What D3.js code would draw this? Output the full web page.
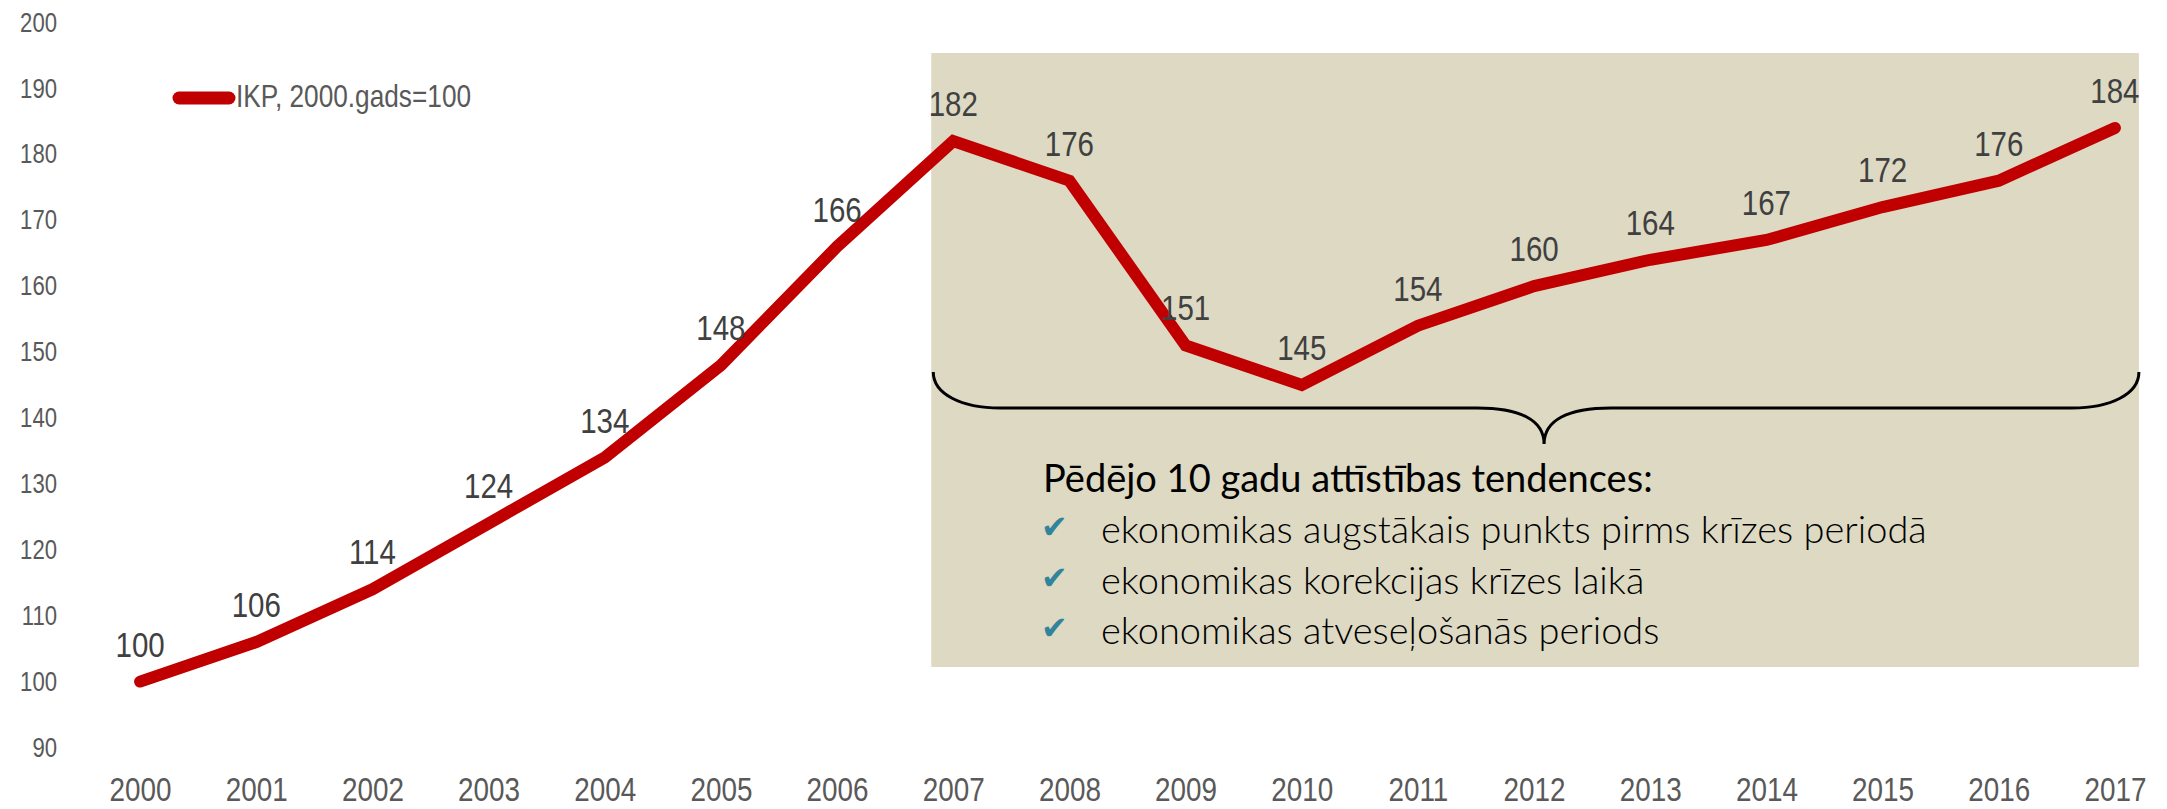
<!DOCTYPE html>
<html>
<head>
<meta charset="utf-8">
<script src="https://cdn.jsdelivr.net/npm/d3@7"></script>
<style>
  body { margin: 0; background: #fff; }
  svg { display: block; }
  .narrow { font-family: "Liberation Sans", Arial, sans-serif; }
  .box-text { font-family: Lato, "Open Sans", "Noto Sans", sans-serif; }
</style>
</head>
<body>
<svg id="chart"></svg>
<script>
// ---- data ----
const years = ["2000","2001","2002","2003","2004","2005","2006","2007","2008",
               "2009","2010","2011","2012","2013","2014","2015","2016","2017"];
const gdpIndex = [100, 106, 114, 124, 134, 148, 166, 182, 176,
                  151, 145, 154, 160, 164, 167, 172, 176, 184];
const yTicks = [90, 100, 110, 120, 130, 140, 150, 160, 170, 180, 190, 200];
const seriesName = "IKP, 2000.gads=100";
const noteTitle = "Pēdējo 10 gadu attīstības tendences:";
const noteItems = [
  "ekonomikas augstākais punkts pirms krīzes periodā",
  "ekonomikas korekcijas krīzes laikā",
  "ekonomikas atveseļošanās periods"
];

// ---- layout ----
const W = 2167, H = 809;
const red = "#C00000", axisGrey = "#595959", labelGrey = "#404040";
const narrow = "scale(0.82,1)";   // no Arial Narrow here, squeeze Liberation Sans instead

const svg = d3.select("#chart").attr("width", W).attr("height", H);

const x = d3.scalePoint(years, [82, 2173]).padding(0.5);
const y = d3.scaleLinear([90, 200], [747.5, 22.5]);

// shaded box covering 2007-2017
const boxL = x("2007") - 22, boxR = x("2017") + 24, boxT = 53, boxB = 667;
svg.append("rect")
  .attr("x", boxL).attr("y", boxT)
  .attr("width", boxR - boxL).attr("height", boxB - boxT)
  .attr("fill", "#DDD9C3");

// brace under the recovery period
const bL = boxL + 2, bR = boxR, bTop = 372, bMid = 408, bTip = 444;
const tipX = (bL + bR) / 2 + 8;
svg.append("path")
  .attr("d", `M${bL},${bTop} C${bL},${bMid - 14} ${bL + 28},${bMid} ${bL + 67},${bMid}
    L${tipX - 67},${bMid} C${tipX - 24},${bMid} ${tipX},${bMid + 12} ${tipX},${bTip}
    C${tipX},${bMid + 12} ${tipX + 24},${bMid} ${tipX + 67},${bMid}
    L${bR - 67},${bMid} C${bR - 28},${bMid} ${bR},${bMid - 14} ${bR},${bTop}`)
  .attr("fill", "none")
  .attr("stroke", "#000")
  .attr("stroke-width", 3);

// note text
const note = svg.append("g").attr("class", "box-text");
note.append("text")
  .attr("x", 1043).attr("y", 492)
  .attr("font-size", 38)
  .attr("fill", "#000")
  .text(noteTitle);

noteItems.forEach((t, i) => {
  const by = 543 + i * 50.5;
  note.append("text")
    .attr("x", 1041).attr("y", by - 5)
    .attr("font-family", "DejaVu Sans, sans-serif")
    .attr("font-size", 32)
    .attr("fill", "#31849B")
    .text("✔");
  note.append("text")
    .attr("x", 1101).attr("y", by)
    .attr("font-size", 38)
    .attr("font-weight", 300)
    .attr("fill", "#000")
    .text(t);
});

// ---- axes ----
const yAxis = svg.append("g")
  .attr("class", "narrow")
  .attr("transform", "translate(57,0)")
  .call(d3.axisLeft(y).tickValues(yTicks).tickSize(0).tickPadding(0));
yAxis.select(".domain").remove();
yAxis.selectAll("text")
  .attr("transform", narrow)
  .attr("font-size", 27)
  .attr("fill", axisGrey)
  .attr("font-family", null);

const xAxis = svg.append("g")
  .attr("class", "narrow")
  .attr("transform", "translate(0,801)")
  .call(d3.axisBottom(x).tickSize(0).tickPadding(0));
xAxis.select(".domain").remove();
xAxis.selectAll("text")
  .attr("y", 0).attr("dy", 0)
  .attr("transform", narrow)
  .attr("font-size", 34)
  .attr("fill", axisGrey)
  .attr("font-family", null);

// ---- line ----
const pts = years.map((yr, i) => ({ year: yr, v: gdpIndex[i] }));
svg.append("path")
  .datum(pts)
  .attr("d", d3.line().x(d => x(d.year)).y(d => y(d.v)))
  .attr("fill", "none")
  .attr("stroke", red)
  .attr("stroke-width", 12)
  .attr("stroke-linecap", "round")
  .attr("stroke-linejoin", "miter");

// data labels
svg.append("g")
  .attr("class", "narrow")
  .selectAll("text")
  .data(pts)
  .join("text")
  .attr("transform", d => `translate(${x(d.year)},${y(d.v) - 25}) ${narrow}`)
  .attr("text-anchor", "middle")
  .attr("font-size", 36)
  .attr("fill", labelGrey)
  .text(d => d.v);

// ---- legend ----
const leg = svg.append("g");
leg.append("line")
  .attr("x1", 179).attr("x2", 229).attr("y1", 98).attr("y2", 98)
  .attr("stroke", red).attr("stroke-width", 13).attr("stroke-linecap", "round");
leg.append("text")
  .attr("class", "narrow")
  .attr("transform", `translate(236,107) ${narrow}`)
  .attr("font-size", 32)
  .attr("fill", axisGrey)
  .text(seriesName);
</script>
</body>
</html>
